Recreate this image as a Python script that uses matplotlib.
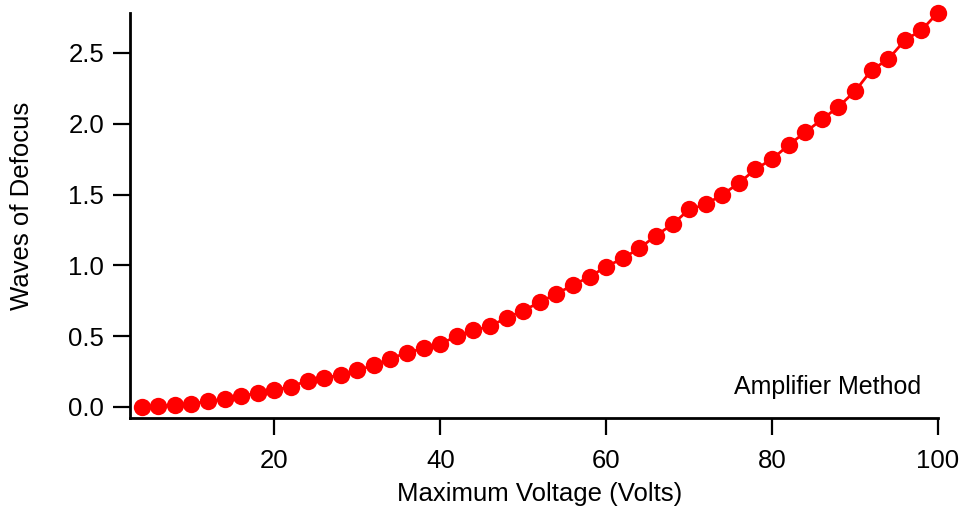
#
# defocus.py - waves of defocus against amplifier drive voltage
#
import matplotlib
matplotlib.use("Agg")
import matplotlib.pyplot as plt

plt.rcParams['font.family'] = ['Liberation Sans', 'DejaVu Sans']

# Maximum voltage (Volts), every 2 V from 4 to 100
voltage = [4, 6, 8, 10, 12, 14, 16, 18, 20, 22, 24, 26, 28, 30, 32, 34, 36,
           38, 40, 42, 44, 46, 48, 50, 52, 54, 56, 58, 60, 62, 64, 66, 68,
           70, 72, 74, 76, 78, 80, 82, 84, 86, 88, 90, 92, 94, 96, 98, 100]

# Measured waves of defocus
defocus = [0.00, 0.005, 0.014, 0.023, 0.04, 0.056, 0.078, 0.097, 0.12,
           0.143, 0.186, 0.205, 0.226, 0.26, 0.294, 0.342, 0.383, 0.414,
           0.445, 0.50, 0.54, 0.57, 0.63, 0.68, 0.74, 0.80, 0.86, 0.92,
           0.99, 1.05, 1.12, 1.21, 1.29, 1.395, 1.43, 1.50, 1.58, 1.68,
           1.75, 1.85, 1.94, 2.03, 2.12, 2.23, 2.38, 2.455, 2.59, 2.66,
           2.785]

xticks = [20, 40, 60, 80, 100]
yticks = [0.0, 0.5, 1.0, 1.5, 2.0, 2.5]

fig = plt.figure(figsize=(9.61, 5.11), dpi=100)
ax = fig.add_axes([130 / 961, 93 / 511, 808 / 961, 405 / 511])

ax.plot(voltage, defocus, color="#ff0000", linewidth=2, marker="o",
        markersize=12.5, markeredgewidth=0, clip_on=False)

ax.set_xlim(2.6, 100)
ax.set_ylim(-0.078, 2.782)
ax.set_xticks(xticks)
ax.set_yticks(yticks)
ax.set_xticklabels([str(t) for t in xticks])
ax.set_yticklabels([f"{t:.1f}" for t in yticks])

for side in ("top", "right"):
    ax.spines[side].set_visible(False)
for side in ("left", "bottom"):
    ax.spines[side].set_linewidth(2)

ax.tick_params(axis="both", direction="out", length=12.5, width=1.6,
               labelsize=18.5, color="black")
ax.tick_params(axis="x", pad=10)
ax.tick_params(axis="y", pad=6)

ax.set_xlabel("Maximum Voltage (Volts)", fontsize=18.5)
ax.set_ylabel("Waves of Defocus", fontsize=18.5)
ax.xaxis.label.set_verticalalignment("center")
ax.yaxis.label.set_verticalalignment("center")
ax.xaxis.set_label_coords(0.507, -0.188)
ax.yaxis.set_label_coords(-0.134, 0.523)

ax.text(0.979, 0.077, "Amplifier Method", transform=ax.transAxes,
        ha="right", va="center", fontsize=18)

fig.savefig("out.png", dpi=100)
